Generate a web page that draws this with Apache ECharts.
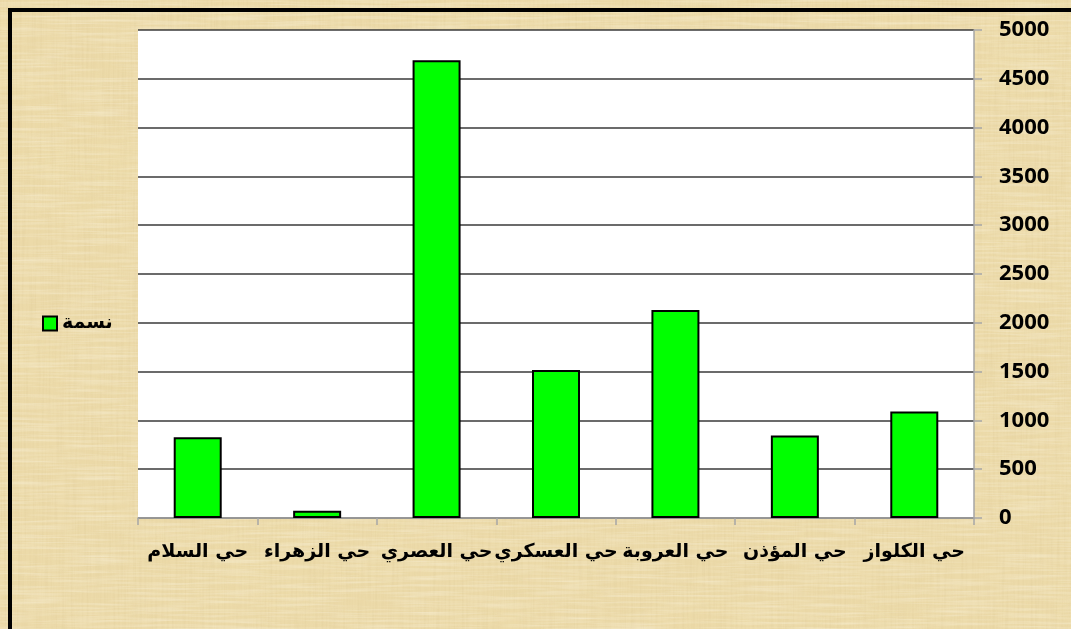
<!DOCTYPE html>
<html>
<head>
<meta charset="utf-8">
<script src="https://cdn.jsdelivr.net/npm/echarts@6/dist/echarts.min.js"></script>
<style>
  html, body { margin: 0; padding: 0; }
  body {
    width: 1071px; height: 629px; overflow: hidden; position: relative;
    background-color: #ecdaa9;
  }
  #paper {
    position: absolute; left: 0; top: 0; width: 1071px; height: 629px;
    background-image:
      url("data:image/svg+xml;utf8,<svg xmlns='http://www.w3.org/2000/svg' width='1071' height='629'><filter id='a'><feTurbulence type='fractalNoise' baseFrequency='0.45 0.015' numOctaves='3' seed='4'/><feColorMatrix values='0 0 0 0 0.72  0 0 0 0 0.58  0 0 0 0 0.30  1.4 0 0 0 -0.55'/></filter><filter id='b'><feTurbulence type='fractalNoise' baseFrequency='0.015 0.4' numOctaves='3' seed='9'/><feColorMatrix values='0 0 0 0 1  0 0 0 0 0.97  0 0 0 0 0.86  1.4 0 0 0 -0.55'/></filter><filter id='c'><feTurbulence type='fractalNoise' baseFrequency='0.006 0.01' numOctaves='2' seed='2'/><feColorMatrix values='0 0 0 0 0.85  0 0 0 0 0.72  0 0 0 0 0.40  1.6 0 0 0 -0.7'/></filter><rect width='100%' height='100%' filter='url(%23c)' opacity='0.5'/><rect width='100%' height='100%' filter='url(%23a)' opacity='0.45'/><rect width='100%' height='100%' filter='url(%23b)' opacity='0.5'/></svg>");
  }
  #frame {
    position: absolute; left: 8px; top: 8px; width: 1080px; height: 640px;
    border-left: 4px solid #000; border-top: 4px solid #000;
  }
  #chart { position: absolute; left: 0; top: 0; width: 1071px; height: 629px; }
</style>
</head>
<body>
<div id="paper"></div>
<div id="frame"></div>
<div id="chart"></div>
<script>
  // الأحياء
  const categories = ['حي السلام', 'حي الزهراء', 'حي العصري', 'حي العسكري', 'حي العروبة', 'حي المؤذن', 'حي الكلواز'];
  // عدد السكان
  const population = [828, 75, 4690, 1517, 2130, 846, 1092];
  const seriesName = 'نسمة';

  const myChart = echarts.init(document.getElementById('chart'));
  const option = {
    backgroundColor: 'transparent',
    animation: false,
    grid: {
      left: 138,
      right: 97,
      top: 30,
      bottom: 111,
      show: true,
      backgroundColor: '#ffffff',
      borderWidth: 0,
    },
    legend: {
      data: [seriesName],
      left: 37,
      top: 309,
      itemWidth: 14,
      itemHeight: 14,
      itemGap: 6,
      icon: 'rect',
      textStyle: {
        fontFamily: 'DejaVu Sans',
        fontWeight: 'bold',
        fontSize: 19,
        color: '#000',
      },
    },
    xAxis: {
      type: 'category',
      data: categories,
      axisLine: { lineStyle: { color: '#a6a6a6', width: 1.5 } },
      axisTick: { show: true, length: 7, lineStyle: { color: '#a6a6a6', width: 1.5 } },
      axisLabel: {
        interval: 0,
        margin: 25,
        fontFamily: 'DejaVu Sans',
        fontWeight: 'bold',
        fontSize: 19,
        color: '#000',
      },
    },
    yAxis: {
      type: 'value',
      position: 'right',
      min: 0,
      max: 5000,
      interval: 500,
      axisLine: { show: true, lineStyle: { color: '#a6a6a6', width: 1.5 } },
      axisTick: { show: true, length: 8, lineStyle: { color: '#a6a6a6', width: 1.5 } },
      splitLine: { show: true, lineStyle: { color: '#3a3a3a', width: 1.5 } },
      axisLabel: {
        margin: 25,
        fontFamily: 'Open Sans',
        fontWeight: 'bold',
        fontSize: 22,
        color: '#000',
        formatter: (v) => String(v),
      },
    },
    series: [
      {
        name: seriesName,
        type: 'bar',
        data: population,
        barWidth: 48,
        itemStyle: {
          color: '#00ff00',
          borderColor: '#000',
          borderWidth: 2,
        },
      },
    ],
  };
  myChart.setOption(option);
</script>
</body>
</html>
